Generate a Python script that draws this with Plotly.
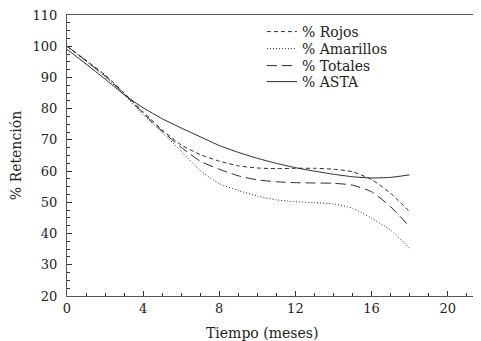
import plotly.graph_objects as go

tiempo = list(range(0, 19))
rojos = [100.0, 95.5, 90.8, 85.0, 79.0, 73.2, 68.4, 65.3, 63.2, 61.7, 61.0, 60.8, 60.9, 60.9, 60.6, 59.8, 57.3, 52.9, 47.0]
amarillos = [100.0, 95.2, 90.2, 84.5, 78.0, 72.4, 66.4, 60.2, 56.0, 53.8, 52.0, 50.8, 50.2, 49.9, 49.5, 48.1, 44.9, 41.1, 35.3]
totales = [100.0, 95.3, 90.5, 84.8, 78.5, 72.8, 67.6, 63.2, 60.6, 58.5, 57.2, 56.6, 56.3, 56.2, 56.1, 55.5, 53.4, 48.6, 42.2]
asta = [99.0, 94.3, 89.5, 84.5, 80.3, 76.8, 73.8, 71.0, 68.2, 66.0, 64.1, 62.5, 61.1, 60.0, 59.0, 58.2, 57.8, 58.0, 58.8]

series_names = ["% Rojos", "% Amarillos", "% Totales", "% ASTA"]
x_ticks = [0, 4, 8, 12, 16, 20]
y_ticks = [20, 30, 40, 50, 60, 70, 80, 90, 100, 110]
x_title = "Tiempo (meses)"
y_title = "% Retención"

dashes = ["4px,3px", "1px,2px", "10px,5px", "solid"]
data = [rojos, amarillos, totales, asta]
legend_ids = ["legend", "legend2", "legend3", "legend4"]
legend_y = [0.9395, 0.879, 0.8185, 0.7616]

font_family = "DejaVu Serif"
ink = "#222"

fig = go.Figure()
for name, vals, d, lid in zip(series_names, data, dashes, legend_ids):
    fig.add_trace(go.Scatter(
        x=tiempo, y=vals, name=name, mode="lines", legend=lid,
        line=dict(color="#2a2a2a", width=1, dash=d, shape="spline", smoothing=0.6),
    ))

legends = {}
for lid, ly in zip(legend_ids, legend_y):
    legends[lid] = dict(x=0.472, y=ly, xanchor="left", yanchor="middle",
                        bgcolor="rgba(0,0,0,0)",
                        font=dict(size=14, family=font_family, color=ink),
                        itemwidth=30)

# page body has an 8px margin, so the figure is shrunk and margins offset to compensate
fig.update_layout(
    width=473, height=333,
    margin=dict(l=59, r=1, t=7, b=45, autoexpand=False),
    paper_bgcolor="white", plot_bgcolor="white",
    font=dict(family=font_family, size=13, color=ink),
    showlegend=True,
    **legends,
)
fig.add_annotation(text=x_title, xref="paper", yref="paper", x=0.472, y=-0.131,
                   xanchor="center", yanchor="middle", showarrow=False,
                   font=dict(size=14, family=font_family, color=ink))
fig.update_xaxes(
    range=[0, 21.7], tickvals=x_ticks, ticktext=[str(v) for v in x_ticks],
    ticks="inside", ticklen=5, tickcolor="#333", tickwidth=1,
    minor=dict(dtick=1, tick0=0, ticks="inside", ticklen=3, tickcolor="#333"),
    showline=True, linecolor="#555", linewidth=1, mirror=True,
    showgrid=False, zeroline=False, ticklabeloverflow="allow",
    tickfont=dict(size=13, family=font_family, color=ink),
)
fig.update_yaxes(
    range=[20, 110], tickvals=y_ticks, ticktext=[str(v) for v in y_ticks],
    ticks="inside", ticklen=5, tickcolor="#333", tickwidth=1,
    minor=dict(dtick=2.5, tick0=20, ticks="inside", ticklen=3, tickcolor="#333"),
    showline=True, linecolor="#555", linewidth=1, mirror=True,
    showgrid=False, zeroline=False, ticklabelstandoff=6, ticklabeloverflow="allow",
    title=dict(text=y_title, font=dict(size=14, family=font_family, color=ink), standoff=10),
    tickfont=dict(size=13, family=font_family, color=ink),
)

fig.write_html("out.html")
